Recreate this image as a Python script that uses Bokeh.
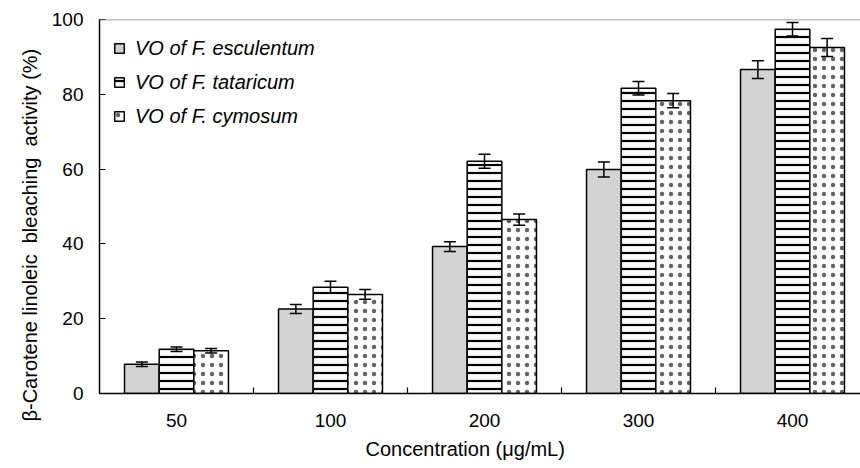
import math
from bokeh.plotting import figure
from bokeh.models import (ColumnDataSource, FixedTicker, Whisker, TeeHead, Span,
                          Title, Legend, LegendItem)
from bokeh.embed import file_html
from bokeh.resources import INLINE

# ---- data ----
concentrations = ["50", "100", "200", "300", "400"]
esculentum = [7.8, 22.6, 39.3, 59.9, 86.6]
esculentum_err = [0.6, 1.2, 1.3, 2.0, 2.4]
tataricum = [11.8, 28.4, 62.1, 81.6, 97.4]
tataricum_err = [0.6, 1.6, 1.9, 1.8, 1.8]
cymosum = [11.4, 26.5, 46.5, 78.3, 92.5]
cymosum_err = [0.6, 1.3, 1.5, 1.9, 2.4]
series_names = ["VO of F. esculentum", "VO of F. tataricum", "VO of F. cymosum"]

FONT = "Liberation Sans"
W, H = 860, 468
BL, BT, BB = 99, 19, 75
frame_w = W - BL
px_per_cat = 154.0
x_end = frame_w / px_per_cat
frame_h = H - BT - BB

p = figure(width=W, height=H, output_backend="svg", toolbar_location=None,
           x_range=(0, x_end), y_range=(0, 100),
           min_border_left=BL, min_border_top=BT, min_border_right=0,
           min_border_bottom=BB)
p.outline_line_color = None
p.xgrid.visible = False
p.ygrid.visible = False
p.background_fill_color = "white"
p.border_fill_color = "white"

bw = 0.225
centers = [i + 0.5 for i in range(len(concentrations))]
offsets = [-bw, 0.0, bw]
vals = [esculentum, tataricum, cymosum]
errs = [esculentum_err, tataricum_err, cymosum_err]
styles = [
    dict(fill_color="#d3d3d3"),
    dict(fill_color="white", hatch_pattern="horizontal_line", hatch_color="black",
         hatch_scale=8, hatch_weight=2.2),
    dict(fill_color="white", hatch_pattern="dot", hatch_color="#666666",
         hatch_scale=9, hatch_weight=0.8),
]

items = []
for k in range(3):
    xs = [c + offsets[k] for c in centers]
    src = ColumnDataSource(dict(x=xs, top=vals[k],
                                lo=[v - e for v, e in zip(vals[k], errs[k])],
                                hi=[v + e for v, e in zip(vals[k], errs[k])]))
    r = p.vbar(x="x", top="top", bottom=0, width=bw, source=src,
               line_color="black", line_width=1.5, **styles[k])
    items.append(LegendItem(label=series_names[k], renderers=[r]))
    wh = Whisker(base="x", lower="lo", upper="hi", source=src, level="annotation",
                 line_color="black", line_width=1.5,
                 upper_head=TeeHead(size=12, line_color="black", line_width=1.5),
                 lower_head=TeeHead(size=12, line_color="black", line_width=1.5))
    p.add_layout(wh)

# top gray border line
p.add_layout(Span(location=100, dimension="width", line_color="#808080", line_width=1.5))

# axes
p.xaxis.ticker = FixedTicker(ticks=centers, minor_ticks=[1, 2, 3, 4])
p.xaxis.major_label_overrides = {c: lab for c, lab in zip(centers, concentrations)}
p.xaxis.major_tick_in = 0
p.xaxis.major_tick_out = 0
p.xaxis.minor_tick_in = 6
p.xaxis.minor_tick_out = 0
p.xaxis.minor_tick_line_color = "black"
p.xaxis.minor_tick_line_width = 1.2
p.xaxis.axis_line_color = "black"
p.xaxis.axis_line_width = 1.5
p.xaxis.major_label_standoff = 20
p.xaxis.major_label_text_font = FONT
p.xaxis.major_label_text_font_size = "19px"
p.xaxis.major_label_text_color = "black"

p.yaxis.ticker = FixedTicker(ticks=[0, 20, 40, 60, 80, 100])
p.yaxis.major_tick_in = 6
p.yaxis.major_tick_out = 0
p.yaxis.major_tick_line_color = "black"
p.yaxis.major_tick_line_width = 1.2
p.yaxis.minor_tick_line_color = None
p.yaxis.axis_line_color = "black"
p.yaxis.axis_line_width = 1.5
p.yaxis.major_label_standoff = 16
p.yaxis.major_label_text_font = FONT
p.yaxis.major_label_text_font_size = "19px"
p.yaxis.major_label_text_color = "black"

# axis titles
p.add_layout(Title(text="Concentration (μg/mL)", align="left", offset=266,
                   standoff=12, text_font=FONT, text_font_size="20px",
                   text_font_style="normal", text_color="black"), "below")
p.add_layout(Title(text="β-Carotene linoleic\u00a0 bleaching\u00a0 activity (%)",
                   align="left", offset=-28, standoff=16, text_font=FONT,
                   text_font_size="20px", text_font_style="normal",
                   text_color="black"), "left")

legend = Legend(items=items, location=(14, frame_h - 17 - 92), margin=0, padding=0,
                glyph_width=12, glyph_height=12, label_height=24, spacing=10,
                label_standoff=10, label_text_font=FONT, label_text_color="black",
                label_text_font_style="italic", label_text_font_size="20px",
                border_line_color=None, background_fill_alpha=0)
p.add_layout(legend)

open("out.html", "w").write(file_html(p, INLINE))
